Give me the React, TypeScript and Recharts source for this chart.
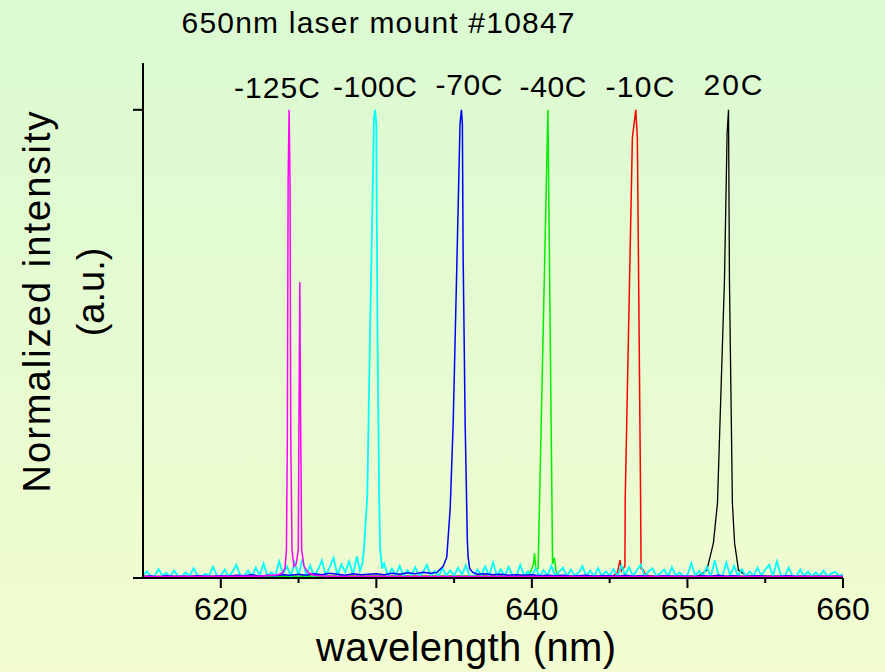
import { LineChart, Line, XAxis, YAxis } from 'recharts';

// wavelength grid for the noisy -100C trace (nm)
const cyanStart = 615;
const cyanStep = 0.25;
const cyanNoise = [
    0.006, 0.014, 0.003, 0.004, 0.019, 0.005, 0.011, 0.003, 0.016, 0.004, 0.003, 0.012, 0.004, 0.021, 0.006, 0.003, 0.009, 0.004, 0.024, 0.005,
    0.004, 0.018, 0.003, 0.013, 0.028, 0.005, 0.004, 0.016, 0.003, 0.022, 0.006, 0.031, 0.004, 0.012, 0.003, 0.036, 0.008, 0.025, 0.004, 0.033,
    0.006, 0.040, 0.005, 0.027, 0.004, 0.018, 0.038, 0.006, 0.022, 0.043, 0.005, 0.029, 0.012, 0.036, 0.007, 0.046, 0.020, 0.005, 0.032, 0.008,
    0.024, 0.005, 0.031, 0.004, 0.020, 0.006, 0.026, 0.003, 0.017, 0.005, 0.023, 0.004, 0.012, 0.028, 0.004, 0.015, 0.003, 0.021, 0.005, 0.016,
    0.004, 0.022, 0.006, 0.027, 0.004, 0.003, 0.018, 0.005, 0.025, 0.004, 0.033, 0.005, 0.019, 0.003, 0.024, 0.006, 0.004, 0.028, 0.005, 0.014,
    0.004, 0.021, 0.003, 0.017, 0.005, 0.026, 0.004, 0.013, 0.022, 0.003, 0.018, 0.005, 0.011, 0.025, 0.004, 0.016, 0.003, 0.021, 0.004, 0.014,
    0.005, 0.019, 0.003, 0.027, 0.006, 0.023, 0.004, 0.017, 0.029, 0.003, 0.014, 0.021, 0.004, 0.010, 0.018, 0.003, 0.023, 0.005, 0.012, 0.003,
    0.006, 0.032, 0.004, 0.015, 0.005, 0.024, 0.003, 0.038, 0.006, 0.004, 0.033, 0.005, 0.026, 0.004, 0.019, 0.003, 0.014, 0.004, 0.022, 0.005,
    0.018, 0.028, 0.004, 0.036, 0.006, 0.003, 0.022, 0.005, 0.003, 0.018, 0.004, 0.014, 0.003, 0.012, 0.004, 0.016, 0.003, 0.010, 0.013, 0.004,
    0.008,
];
const cyanPeak: [number, number][] = [
    [628.95, 0.015], [629.1, 0.03], [629.21, 0.064], [629.42, 0.177], [629.6, 0.534], [629.85, 0.98],
    [629.92, 1.0], [630.0, 0.97], [630.07, 0.534], [630.18, 0.177], [630.24, 0.064], [630.37, 0.02],
];

// blue (-70C) baseline, 0.5 nm grid
const blueStart = 615;
const blueStep = 0.5;
const blueBase = [
    0.003, 0.004, 0.002, 0.005, 0.003, 0.004, 0.003, 0.005, 0.004, 0.003,
    0.005, 0.004, 0.006, 0.005, 0.007, 0.004, 0.006, 0.005, 0.007, 0.006,
    0.008, 0.006, 0.009, 0.007, 0.010, 0.008, 0.006, 0.009, 0.007, 0.008,
    0.009, 0.007, 0.010, 0.008, 0.011, 0.009, 0.012, 0.010, 0.014, 0.018,
    0.010, 0.012, 0.010, 0.008, 0.009, 0.007, 0.008, 0.006, 0.007, 0.006,
    0.007, 0.005, 0.006, 0.005, 0.006, 0.004, 0.005, 0.006, 0.004, 0.005,
    0.005, 0.004, 0.006, 0.004, 0.005, 0.004, 0.003, 0.005, 0.004, 0.004,
    0.004, 0.003, 0.005, 0.004, 0.006, 0.004, 0.005, 0.003, 0.004, 0.005,
    0.004, 0.003, 0.004, 0.005, 0.003, 0.004, 0.003, 0.004, 0.003, 0.004,
    0.003,
];
const bluePeak: [number, number][] = [
    [633.9, 0.012], [634.3, 0.025], [634.53, 0.045], [634.75, 0.15], [634.94, 0.33], [635.19, 0.69],
    [635.38, 0.97], [635.47, 1.0], [635.53, 0.97], [635.58, 0.69], [635.71, 0.33], [635.85, 0.08],
    [635.9, 0.045], [636.0, 0.02], [636.2, 0.012],
];

const magenta: [number, number][] = [
    [615, 0.003], [622.5, 0.004], [623.7, 0.007], [624.0, 0.012], [624.13, 0.022], [624.22, 0.06],
    [624.28, 0.3], [624.33, 0.85], [624.39, 1.0], [624.45, 0.85], [624.5, 0.3], [624.58, 0.06],
    [624.7, 0.025], [624.85, 0.03], [624.98, 0.06], [625.03, 0.35], [625.08, 0.632], [625.13, 0.35],
    [625.2, 0.06], [625.35, 0.025], [625.6, 0.012], [626.0, 0.006], [627, 0.003], [660, 0.003],
];
const green: [number, number][] = [
    [615, 0.003], [639.5, 0.004], [639.89, 0.01], [640.1, 0.03], [640.17, 0.053], [640.25, 0.02],
    [640.4, 0.02], [641.03, 1.0], [641.33, 0.03], [641.45, 0.043], [641.55, 0.015], [641.69, 0.006],
    [642.2, 0.003], [660, 0.003],
];
const red: [number, number][] = [
    [615, 0.003], [645.2, 0.004], [645.5, 0.012], [645.67, 0.038], [645.75, 0.015], [645.98, 0.025],
    [646.0, 0.17], [646.46, 0.94], [646.68, 1.0], [646.78, 0.94], [646.98, 0.2], [647.02, 0.02],
    [647.17, 0.017], [647.3, 0.006], [648, 0.003], [660, 0.003],
];
const black: [number, number][] = [
    [615, 0.003], [650.5, 0.004], [650.82, 0.006], [651.25, 0.017], [651.67, 0.075], [651.93, 0.16],
    [652.38, 0.637], [652.55, 0.95], [652.64, 1.0], [652.7, 0.637], [652.89, 0.16], [653.03, 0.075],
    [653.28, 0.017], [653.82, 0.004], [660, 0.003],
];

const xTicks = [620, 625, 630, 635, 640, 645, 650, 655, 660];
const yTicks = [0, 1];

const peakLabels = [
    { text: '-125C', x: 277, y: 98, w: 86 },
    { text: '-100C', x: 375, y: 97, w: 84 },
    { text: '-70C', x: 469, y: 95, w: 67 },
    { text: '-40C', x: 553, y: 97, w: 67 },
    { text: '-10C', x: 640, y: 97, w: 69 },
    { text: '20C', x: 733, y: 95, w: 59 },
];

const FONT = '"Liberation Sans", Arial, sans-serif';

function merge(start: number, step: number, base: number[], peak: [number, number][]) {
    const lo = peak[0][0];
    const hi = peak[peak.length - 1][0];
    const pts = base
        .map((v, i) => ({ wl: start + i * step, v }))
        .filter((p) => p.wl < lo || p.wl > hi);
    peak.forEach(([wl, v]) => pts.push({ wl, v }));
    return pts.sort((a, b) => a.wl - b.wl);
}

const toRows = (arr: [number, number][]) => arr.map(([wl, v]) => ({ wl, v }));

const cyanData = merge(cyanStart, cyanStep, cyanNoise, cyanPeak);
const blueData = merge(blueStart, blueStep, blueBase, bluePeak);

function XTick({ x, y, payload }: any) {
    const major = payload.value % 10 === 0;
    return (
        <g>
            <line x1={x} x2={x} y1={y} y2={y + (major ? 10 : 5)} stroke="#000" strokeWidth={2} />
            {major && (
                <text x={x} y={y + 42} textAnchor="middle" fontSize={32} fontFamily={FONT} fill="#000">
                    {payload.value}
                </text>
            )}
        </g>
    );
}

export default function App() {
    return (
        <div
            style={{
                position: 'absolute', left: 0, top: 0, width: 885, height: 672,
                background: 'linear-gradient(to bottom, #dafad2, #f2fcd0)',
            }}
        >
            <LineChart width={885} height={672} margin={{ top: 63, right: 42, bottom: 0, left: 0 }}>
                <XAxis
                    type="number"
                    dataKey="wl"
                    domain={[615, 660]}
                    ticks={xTicks}
                    allowDataOverflow
                    height={94}
                    tickSize={0}
                    tickMargin={0}
                    tickLine={false}
                    tick={<XTick />}
                    axisLine={{ stroke: '#000', strokeWidth: 2 }}
                    interval={0}
                />
                <YAxis
                    type="number"
                    domain={[0, 1.1]}
                    ticks={yTicks}
                    width={143}
                    tickSize={10}
                    tickFormatter={() => ''}
                    tickLine={{ stroke: '#000', strokeWidth: 2 }}
                    axisLine={{ stroke: '#000', strokeWidth: 2 }}
                />
                <Line data={toRows(black)} dataKey="v" type="linear" stroke="#000000" strokeWidth={1.3} dot={false} isAnimationActive={false} />
                <Line data={toRows(red)} dataKey="v" type="linear" stroke="#ff0000" strokeWidth={1.5} dot={false} isAnimationActive={false} />
                <Line data={toRows(green)} dataKey="v" type="linear" stroke="#00ee00" strokeWidth={1.5} dot={false} isAnimationActive={false} />
                <Line data={cyanData} dataKey="v" type="linear" stroke="#00ffff" strokeWidth={1.8} dot={false} isAnimationActive={false} />
                <Line data={blueData} dataKey="v" type="linear" stroke="#0000ff" strokeWidth={1.5} dot={false} isAnimationActive={false} />
                <Line data={toRows(magenta)} dataKey="v" type="linear" stroke="#ff00ff" strokeWidth={1.5} dot={false} isAnimationActive={false} />
            </LineChart>
            <svg width={885} height={672} style={{ position: 'absolute', left: 0, top: 0, pointerEvents: 'none' }}>
                <text x={378} y={33} textAnchor="middle" fontSize={30} textLength={393} lengthAdjust="spacing" fontFamily={FONT} fill="#000">
                    650nm laser mount #10847
                </text>
                {peakLabels.map((p) => (
                    <text key={p.text} x={p.x} y={p.y} textAnchor="middle" fontSize={30} textLength={p.w} lengthAdjust="spacing" fontFamily={FONT} fill="#000">
                        {p.text}
                    </text>
                ))}
                <text x={466} y={661} textAnchor="middle" fontSize={40} textLength={300} lengthAdjust="spacing" fontFamily={FONT} fill="#000">
                    wavelength (nm)
                </text>
                <text transform="translate(50,302) rotate(-90)" textAnchor="middle" fontSize={38} textLength={381} lengthAdjust="spacing" fontFamily={FONT} fill="#000">
                    Normalized intensity
                </text>
                <text transform="translate(104,292) rotate(-90)" textAnchor="middle" fontSize={38} fontFamily={FONT} fill="#000">
                    (a.u.)
                </text>
            </svg>
        </div>
    );
}
